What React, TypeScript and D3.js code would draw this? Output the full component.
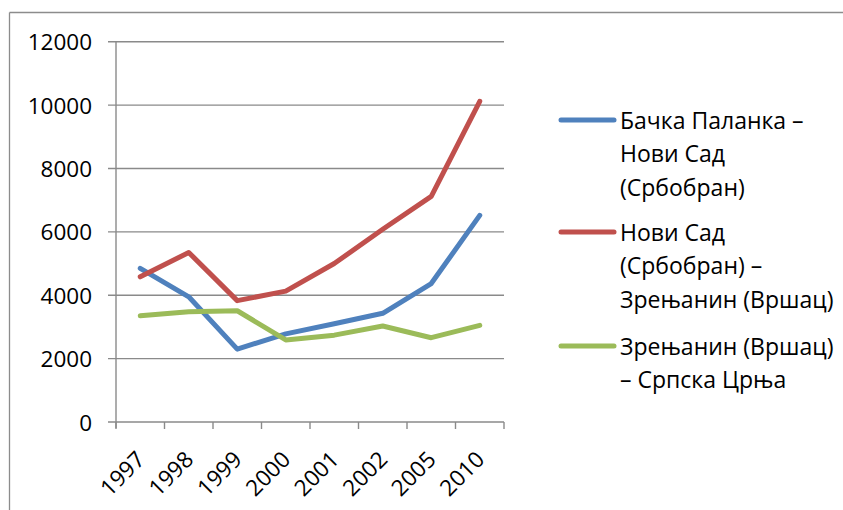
import React from "react";
import * as d3 from "d3";

const years = ["1997", "1998", "1999", "2000", "2001", "2002", "2005", "2010"];
const bachkaNoviSad = [4850, 3950, 2300, 2780, 3100, 3430, 4370, 6520];
const noviSadZrenjanin = [4580, 5350, 3830, 4130, 5000, 6080, 7120, 10120];
const zrenjaninSrpskaCrnja = [3350, 3480, 3510, 2590, 2740, 3030, 2660, 3050];
const yTicks = [0, 2000, 4000, 6000, 8000, 10000, 12000];

const seriesNames = [
  ["Бачка Паланка –", "Нови Сад", "(Србобран)"],
  ["Нови Сад", "(Србобран) –", "Зрењанин (Вршац)"],
  ["Зрењанин (Вршац)", "– Српска Црња"],
];
const seriesValues = [bachkaNoviSad, noviSadZrenjanin, zrenjaninSrpskaCrnja];
const colors = ["#4F81BD", "#C0504D", "#9BBB59"];

const W = 843;
const H = 510;
const plotLeft = 116;
const plotRight = 504;
const plotTop = 41.7;
const plotBottom = 422;
const FONT = "'Open Sans', 'Noto Sans', sans-serif";

export default function App() {
  const x = d3.scaleBand<string>().domain(years).range([plotLeft, plotRight]).padding(0);
  const y = d3.scaleLinear().domain([0, 12000]).range([plotBottom, plotTop]);
  const line = d3
    .line<number>()
    .x((_, i) => (x(years[i]) as number) + x.bandwidth() / 2)
    .y((d) => y(d));

  const tickXs = years.map((yr) => x(yr) as number).concat([plotRight]);
  const legendTop = [120, 232, 346];
  const lineGap = 33.3;

  return (
    <svg
      width={W}
      height={H}
      style={{ position: "absolute", left: 0, top: 0, background: "#fff" }}
      fontFamily={FONT}
    >
      <rect x={0} y={0} width={W} height={H} fill="#fff" />
      <line x1={9.5} y1={12.5} x2={W} y2={12.5} stroke="#8c8c8c" strokeWidth={1.3} />
      <line x1={9.5} y1={12.5} x2={9.5} y2={H} stroke="#8c8c8c" strokeWidth={1.3} />

      {yTicks.map((t) => (
        <g key={t}>
          <line x1={plotLeft - 8} x2={plotRight} y1={y(t)} y2={y(t)} stroke="#8a8a8a" strokeWidth={1.4} />
          <text
            x={92}
            y={y(t)}
            textAnchor="end"
            dominantBaseline="central"
            fontSize={22.5}
            fill="#000"
          >
            {t}
          </text>
        </g>
      ))}
      <line x1={plotLeft} x2={plotLeft} y1={plotTop} y2={plotBottom + 6} stroke="#8a8a8a" strokeWidth={1.4} />
      {tickXs.map((tx, i) => (
        <line key={i} x1={tx} x2={tx} y1={plotBottom} y2={plotBottom + 7} stroke="#8a8a8a" strokeWidth={1.4} />
      ))}
      {years.map((yr) => {
        const cx = (x(yr) as number) + x.bandwidth() / 2;
        return (
          <text
            key={yr}
            transform={`translate(${cx + 6},${461}) rotate(-45)`}
            textAnchor="end"
            fontSize={22.5}
            fill="#000"
          >
            {yr}
          </text>
        );
      })}

      {seriesValues.map((vals, i) => (
        <path
          key={i}
          d={line(vals) as string}
          fill="none"
          stroke={colors[i]}
          strokeWidth={5}
          strokeLinejoin="round"
          strokeLinecap="round"
        />
      ))}

      {seriesNames.map((rows, i) => (
        <g key={i}>
          <line
            x1={561}
            x2={614}
            y1={legendTop[i]}
            y2={legendTop[i]}
            stroke={colors[i]}
            strokeWidth={5}
            strokeLinecap="round"
          />
          {rows.map((r, j) => (
            <text
              key={j}
              x={620}
              y={legendTop[i] + j * lineGap}
              dominantBaseline="central"
              fontSize={23}
              fill="#000"
            >
              {r}
            </text>
          ))}
        </g>
      ))}
    </svg>
  );
}
